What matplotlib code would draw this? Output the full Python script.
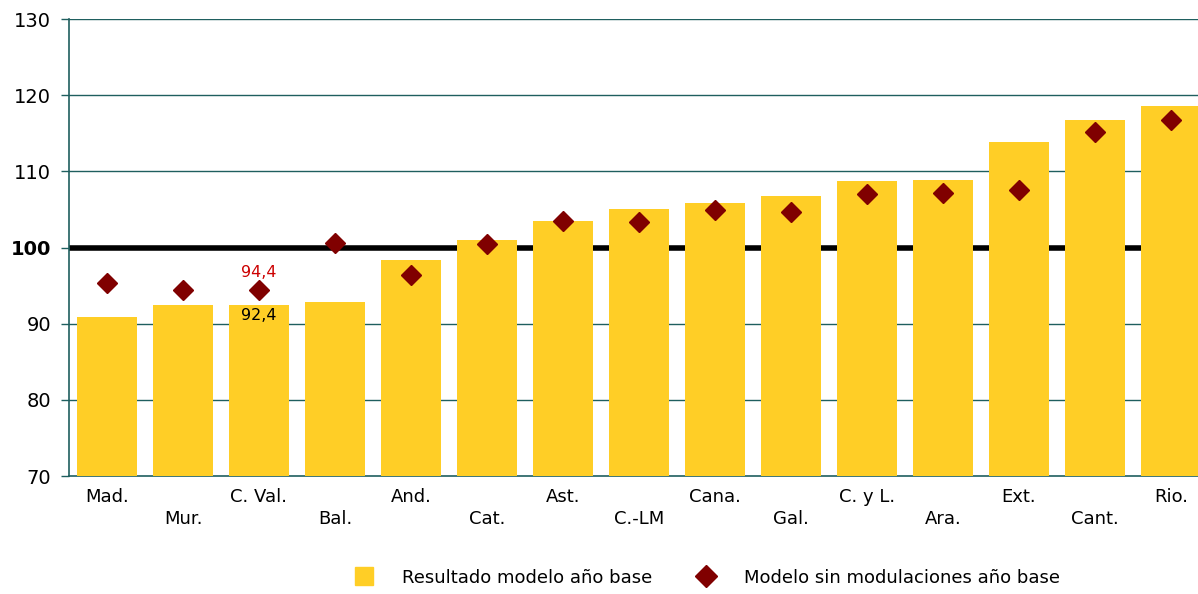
import matplotlib
matplotlib.use("Agg")
import matplotlib.pyplot as plt
from matplotlib.lines import Line2D
import numpy as np

categories = ["Mad.", "Mur.", "C. Val.", "Bal.", "And.", "Cat.", "Ast.", "C.-LM",
              "Cana.", "Gal.", "C. y L.", "Ara.", "Ext.", "Cant.", "Rio."]
resultado = [90.9, 92.4, 92.4, 92.8, 98.3, 101.0, 103.5, 105.0,
             105.8, 106.8, 108.7, 108.8, 113.8, 116.7, 118.6]
sin_modulaciones = [95.3, 94.4, 94.4, 100.6, 96.4, 100.4, 103.5, 103.4,
                    104.9, 104.7, 107.0, 107.1, 107.6, 115.2, 116.7]
yticks = [70, 80, 90, 100, 110, 120, 130]

BAR = "#FFCE26"
DIAM = "#800000"
GRID = "#1F5F5F"

plt.rcParams['font.family'] = ['DejaVu Sans']

fig = plt.figure(figsize=(11.98, 5.94), dpi=100)
ax = fig.add_axes([69/1198, 118/594, 1140/1198, 457/594])

x = np.arange(len(categories))
ax.set_xlim(-0.5, len(categories) - 0.5)
ax.set_ylim(70, 130)

for v in [80, 90, 110, 120, 130]:
    ax.axhline(v, color=GRID, lw=1.0, zorder=0)
ax.axhline(100, color="black", lw=4, zorder=0.5)

ax.bar(x, resultado, width=0.78, color=BAR, zorder=2)
ax.plot(x, sin_modulaciones, linestyle="none", marker="D", markersize=10.5,
        color=DIAM, zorder=3)

# data labels for C. Val.
ax.text(x[2], sin_modulaciones[2] + 1.3, "94,4", color="#CC0000",
        ha="center", va="bottom", fontsize=11.5, zorder=4)
ax.text(x[2], resultado[2] - 0.3, "92,4", color="black",
        ha="center", va="top", fontsize=11.5, zorder=4)

for s in ["top", "right"]:
    ax.spines[s].set_visible(False)
for s in ["left", "bottom"]:
    ax.spines[s].set_color(GRID)
    ax.spines[s].set_linewidth(1.2)
    ax.spines[s].set_zorder(1)

ax.set_yticks(yticks)
ax.set_yticklabels([str(v) for v in yticks], fontsize=14)
for lab in ax.get_yticklabels():
    if lab.get_text() == "100":
        lab.set_fontweight("bold")
ax.tick_params(axis="y", length=6, color=GRID, width=1.0, pad=7)

ax.set_xticks(x)
ax.set_xticklabels([])
ax.tick_params(axis="x", length=0)
for i, c in enumerate(categories):
    yoff = -0.027 if i % 2 == 0 else -0.075
    ax.text(x[i], yoff, c, transform=ax.get_xaxis_transform(), ha="center",
            va="top", fontsize=13)

handles = [
    Line2D([], [], linestyle="none", marker="s", markersize=12.5, color=BAR),
    Line2D([], [], linestyle="none", marker="D", markersize=11, color=DIAM),
]
fig.legend(handles, ["Resultado modelo año base", "Modelo sin modulaciones año base"],
           loc="lower center", bbox_to_anchor=(0.587, -0.015), ncol=2, frameon=False,
           fontsize=13, handletextpad=1.1, columnspacing=2.0)

fig.savefig("out.png", dpi=100)
